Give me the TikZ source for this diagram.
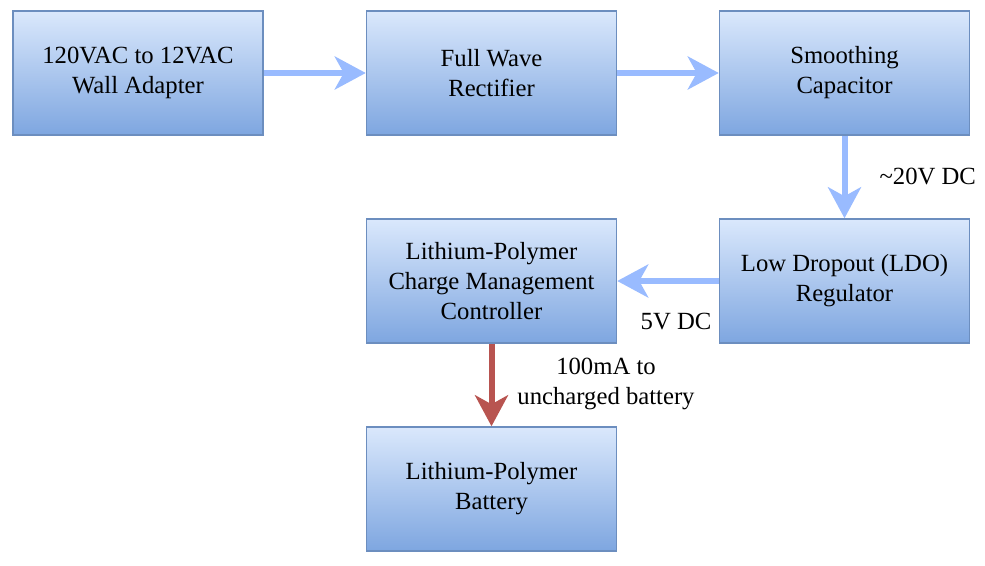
\documentclass[tikz,border=0pt]{standalone}
\usepackage{fontspec}
\newfontfamily\timesfont{Liberation Serif}
\usetikzlibrary{arrows.meta}
\definecolor{boxtop}{HTML}{DAE8FC}
\definecolor{boxbottom}{HTML}{7EA6E0}
\definecolor{boxline}{HTML}{6C8EBF}
\definecolor{flowblue}{HTML}{99BBFF}
\definecolor{flowred}{HTML}{B85450}
\begin{document}
\begin{tikzpicture}[x=1pt, y=-1pt,
  every node/.style={font=\timesfont\fontsize{24.7}{30}\selectfont, align=center},
  block/.style={draw=boxline, line width=1.5pt, top color=boxtop, bottom color=boxbottom, minimum width=250pt, minimum height=124pt, inner sep=0pt},
  flow/.style={draw=flowblue, line width=6pt, -{Stealth[length=31pt, width=33pt, inset=9pt]}},
  charge/.style={draw=flowred, line width=6pt, -{Stealth[length=31pt, width=33pt, inset=9pt]}}]
\useasboundingbox (0,0) rectangle (985,565);
\node[block] (adapter) at (138,73) {120VAC to 12VAC\\Wall Adapter};
\node[block] (rectifier) at (491.5,73) {Full Wave\\Rectifier};
\node[block] (capacitor) at (844.5,73) {Smoothing\\Capacitor};
\node[block] (ldo) at (844.5,281) {Low Dropout (LDO)\\Regulator};
\node[block] (controller) at (491.5,281) {Lithium-Polymer\\Charge Management\\Controller};
\node[block] (battery) at (491.5,489) {Lithium-Polymer\\Battery};

\draw[flow] (adapter) -- (rectifier);
\draw[flow] (rectifier) -- (capacitor);
\draw[flow] (capacitor) -- (ldo);
\draw[flow] (ldo) -- (controller);
\draw[charge] (controller) -- (battery);

\node[anchor=west] (lbl20v) at (876,176) {\textasciitilde20V DC};
\node (lbl5v) at (676,322) {5V DC};
\node (lblcharge) at (606,384) {100mA to\\uncharged battery};
\end{tikzpicture}
\end{document}
